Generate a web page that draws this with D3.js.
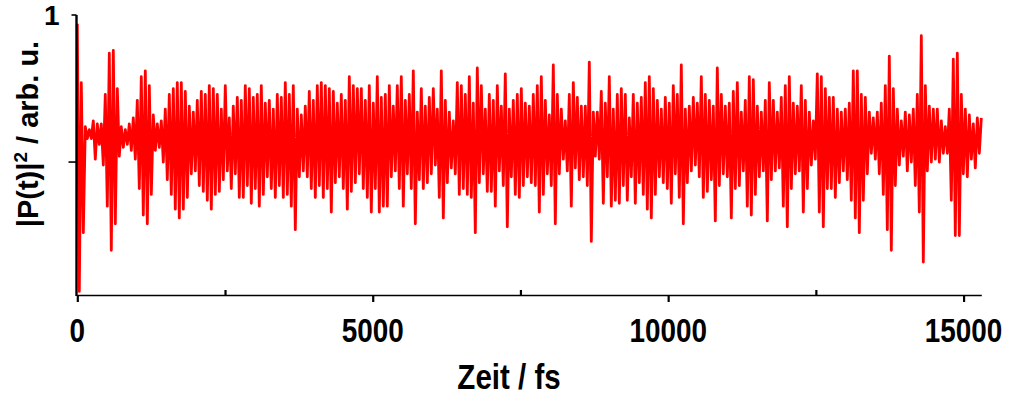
<!DOCTYPE html>
<html><head><meta charset="utf-8">
<script src="https://cdn.jsdelivr.net/npm/d3@7"></script>
<style>body{margin:0;background:#fff;}svg{display:block;}</style>
</head><body>
<svg id="chart" width="1010" height="397"></svg>
<script>
// ---- data ----
const timeStepFs = 33.85;            // sampling interval of the trace, fs
const polarization = [
.97,.06,.77,.26,.62,.58,.61,.58,.64,.51,.63,.56,
.63,.49,.73,.35,.87,.20,.88,.29,.75,.52,.62,.55,.61,
.56,.63,.54,.65,.51,.71,.41,.79,.32,.81,.29,.76,.39,.66,.54,.63,
.55,.64,.50,.68,.44,.73,.39,.75,.34,.77,.31,.77,.34,.74,.38,.69,.46,.67,
.47,.71,.42,.74,.40,.73,.37,.76,.34,.75,.39,.73,.40,.68,.44,.76,.47,.65,.41,.69,.46,.72,.38,.71,.38,.76,.42,.75,.36,.72,.41,.73,.35,.76,.39,.70,.45,.71,.41,.68,.38,.73,.42,.72,.38,.77,.39,.73,.35,.76,.27,.68,.45,.66,.47,.69,.45,.74,.41,.71,.38,.76,.42,.77,.38,.76,.41,.75,.33,.74,.43,.70,.45,
.73,.41,.71,.34,.79,.40,.76,.43,.75,.46,.75,.41,.71,.38,.76,.33,.70,.41,.79,.33,.72,.35,.73,.35,.76,.45,.69,.47,.76,.41,.79,.35,.71,.46,.73,.41,.81,.29,.67,.44,.75,.41,.69,.43,.72,.46,.75,.49,.68,.38,.81,.31,.71,.43,.67,.48,.64,.46,.77,.39,.76,.41,.73,.39,.79,
.38,.70,.26,.82,.43,.76,.46,.68,.40,.73,.40,.71,.35,.76,.47,.69,.42,.80,.28,.68,.45,.71,.39,.73,.38,.75,.42,.70,.45,.69,.43,.73,.42,.76,.33,.79,.39,.71,.46,.66,.42,.83,.29,.73,.46,.68,.51,.64,.47,.73,.35,.77,.48,.72,.44,.69,.45,.69,.42,.84,.23,.67,.52,.67,.51,
.74,.36,.70,.45,.79,.35,.68,.37,.73,.36,.75,.42,.73,.37,.65,.45,.73,.36,.70,.43,.72,.39,.77,.34,.79,.31,.75,.39,.71,.45,.68,.43,.72,.41,.70,.36,.76,.46,.73,.38,.83,.29,.68,.43,.69,.47,.72,.49,.70,.45,.79,.38,.73,.40,.71,.44,.69,.30,.82,.42,.73,.46,.69,.45,.70,
.31,.74,.41,.77,.42,.67,.47,.71,.35,.79,.32,.78,.39,.69,.45,.67,.47,.71,.30,.77,.44,.71,.47,.67,.48,.72,.35,.76,.28,.79,.41,.70,.46,.69,.47,.76,.33,.71,.41,.67,.49,.64,.51,.80,.33,.79,.28,.75,.41,.72,.41,.72,.38,.68,.43,.67,.47,.68,.44,.70,.37,.81,.31,.81,.26,
.73,.37,.72,.46,.67,.53,.65,.51,.67,.46,.70,.39,.76,.27,.86,.20,.75,.42,.68,.49,.64,.52,.67,.47,.66,.50,.68,.42,.73,.33,.93,.16,.76,.47,.69,.50,.68,.51,.68,.50,.64,.53,.62,.53,.68,.37,.85,.25,.87,.25,.73,.46,.68,.45,.66,.51,.63,.48,.65,.53,.65
];
const xMajorTicks = [0, 5000, 10000, 15000];
const xMajorLabels = ["0", "5000", "10000", "15000"];
const xMinorTicks = [2500, 7500, 12500];
const yTicks = [0.5, 1];
const yTickLabels = ["", "1"];
const xTitle = "Zeit / fs";
const yTitleMain = "|P(t)|";
const yTitleSup = "2";
const yTitleRest = " / arb. u.";

// ---- drawing ----
const svg = d3.select("#chart");
const x = d3.scaleLinear().domain([0, 15300]).range([77.3, 981.3]);
const y = d3.scaleLinear().domain([0.048, 1]).range([295, 15]);

const series = polarization.map((v, i) => ({t: i * timeStepFs, v}));

svg.append("path")
  .datum(series)
  .attr("fill", "none")
  .attr("stroke", "#ff0000")
  .attr("stroke-width", 2.8)
  .attr("stroke-linejoin", "round")
  .attr("d", d3.line().x(d => x(d.t)).y(d => y(d.v)));

// x axis: major ticks outward (down), minor ticks inward (up)
const gx = svg.append("g").attr("transform", "translate(0,295)");
gx.call(d3.axisBottom(x).tickValues(xMajorTicks).tickSize(7).tickSizeOuter(0).tickFormat(""));
gx.select(".domain").attr("stroke", "#000").attr("stroke-width", 1.6);
gx.selectAll(".tick line").attr("stroke", "#000").attr("stroke-width", 2.2);

const gxm = svg.append("g").attr("transform", "translate(0,295)");
gxm.call(d3.axisBottom(x).tickValues(xMinorTicks).tickSize(-5).tickFormat(""));
gxm.select(".domain").remove();
gxm.selectAll(".tick line").attr("stroke", "#000").attr("stroke-width", 2.2);

xMajorTicks.forEach((t, i) => {
  svg.append("g").attr("transform", `translate(${x(t)},342)`)
    .append("text")
    .attr("transform", "scale(0.82,1)")
    .attr("text-anchor", "middle")
    .attr("font-family", "'Liberation Sans', Arial, sans-serif")
    .attr("font-weight", "bold")
    .attr("font-size", 34)
    .attr("fill", "#000")
    .text(xMajorLabels[i]);
});

svg.append("g").attr("transform", "translate(509,389)")
  .append("text")
  .attr("transform", "scale(0.82,1)")
  .attr("text-anchor", "middle")
  .attr("font-family", "'Liberation Sans', Arial, sans-serif")
  .attr("font-weight", "bold")
  .attr("font-size", 36)
  .attr("fill", "#000")
  .text(xTitle);

// y axis
const gy = svg.append("g").attr("transform", "translate(76.5,0)");
gy.append("line").attr("x1", 0).attr("x2", 0).attr("y1", y(1)).attr("y2", 296)
  .attr("stroke", "#000").attr("stroke-width", 2.4);
const tickLen = [8, 5];
yTicks.forEach((v, i) => {
  gy.append("line").attr("x1", -tickLen[i]).attr("x2", 0).attr("y1", y(v)).attr("y2", y(v))
    .attr("stroke", "#000").attr("stroke-width", 1.6);
  if (yTickLabels[i]) {
    gy.append("text")
      .attr("x", -17).attr("y", y(v) + 10)
      .attr("text-anchor", "end")
      .attr("font-family", "'Liberation Sans', Arial, sans-serif")
      .attr("font-weight", "bold")
      .attr("font-size", 28)
      .attr("fill", "#000")
      .text(yTickLabels[i]);
  }
});

const yt = svg.append("text")
  .attr("transform", "translate(38,134) rotate(-90)")
  .attr("text-anchor", "middle")
  .attr("font-family", "'Liberation Sans', Arial, sans-serif")
  .attr("font-weight", "bold")
  .attr("font-size", 29)
  .attr("fill", "#000");
yt.append("tspan").text(yTitleMain);
yt.append("tspan").attr("dy", -11).attr("font-size", 19).text(yTitleSup);
yt.append("tspan").attr("dy", 11).text(yTitleRest);
</script>
</body></html>
